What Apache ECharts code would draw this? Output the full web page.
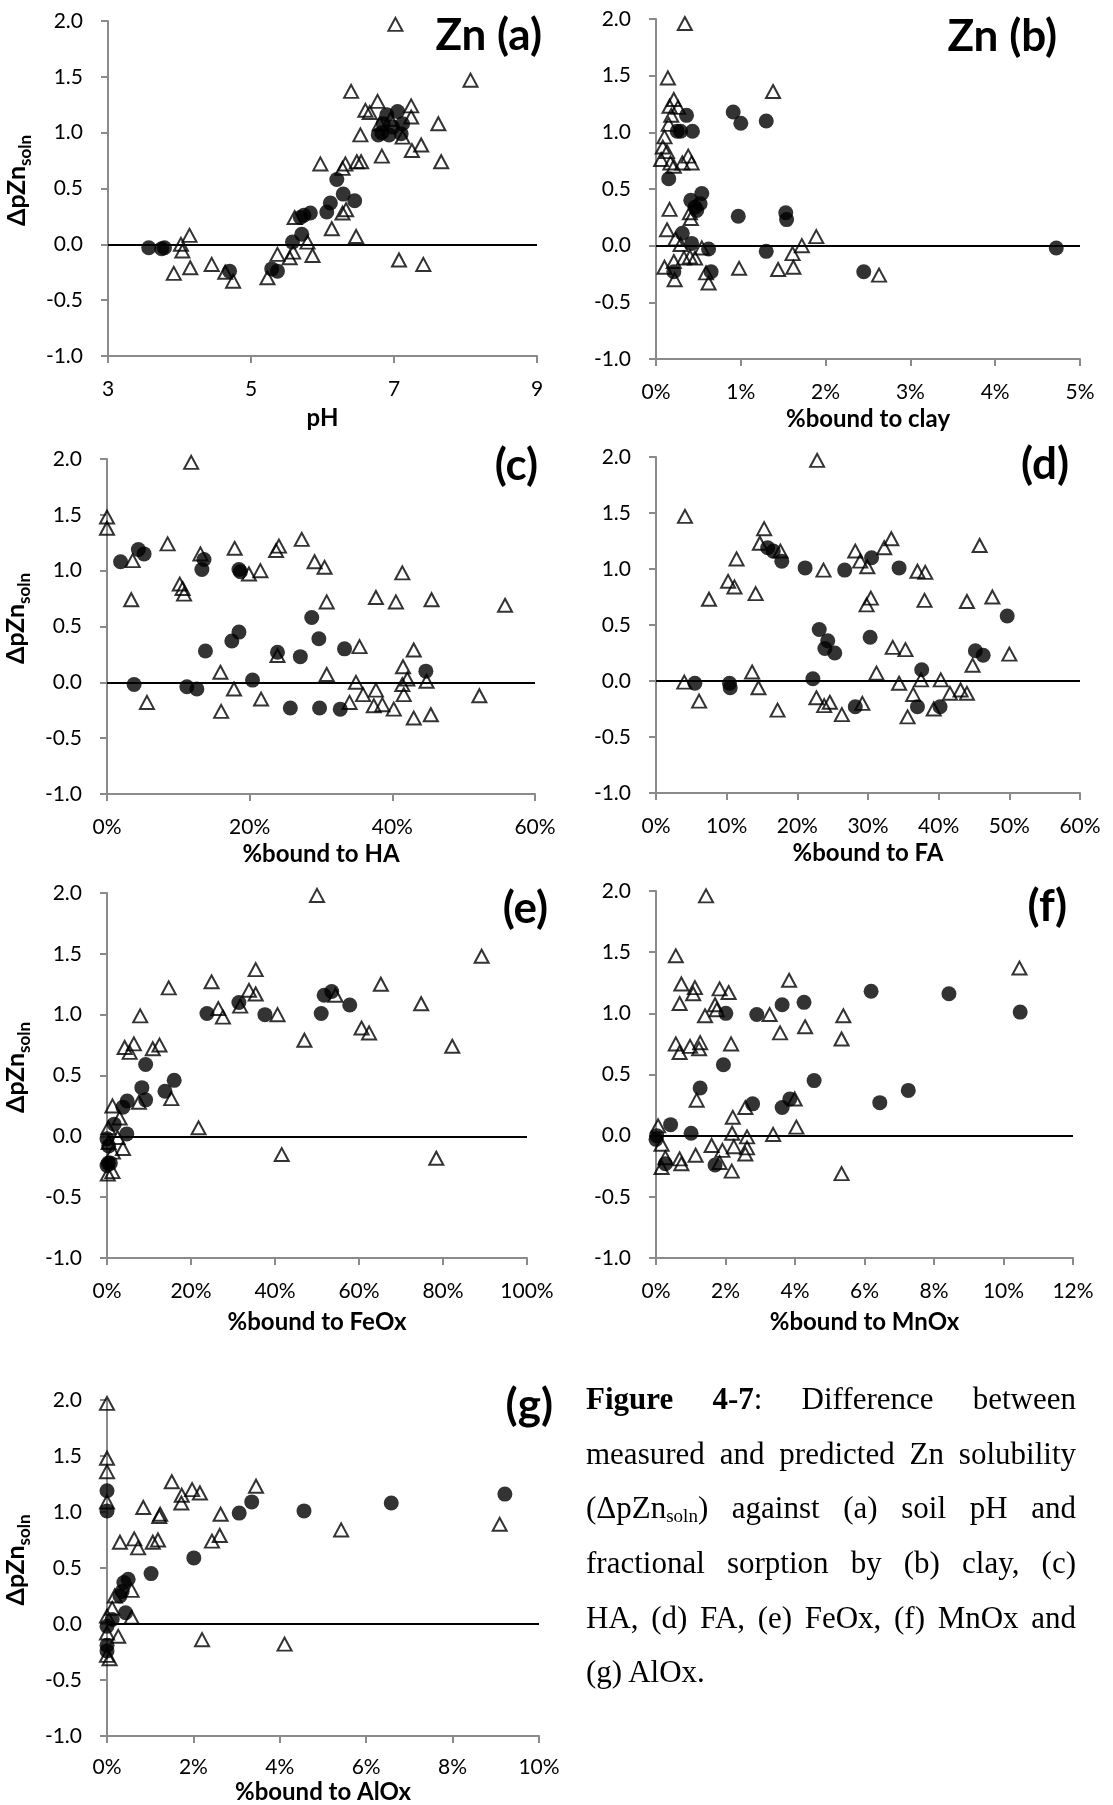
<!DOCTYPE html>
<html>
<head>
<meta charset="utf-8">
<script src="https://cdn.jsdelivr.net/npm/echarts@6/dist/echarts.min.js"></script>
<style>
html,body{margin:0;padding:0;background:#fff;}
#chart{position:absolute;left:0;top:0;width:1113px;height:1805px;}
#caption{position:absolute;left:586px;top:1372px;width:490px;font-family:"Liberation Serif","Times New Roman",serif;font-size:31px;color:#000;}
#caption div{height:54.7px;line-height:54.7px;text-align:justify;text-align-last:justify;white-space:nowrap;}
#caption div.last{text-align:left;text-align-last:left;}
#caption sub{font-size:19px;vertical-align:-4px;line-height:0;}
</style>
</head>
<body>
<div id="chart"></div>
<div id="caption">
<div><b>Figure 4-7</b>: Difference between</div>
<div>measured and predicted Zn solubility</div>
<div>(ΔpZn<sub>soln</sub>) against (a) soil pH and</div>
<div>fractional sorption by (b) clay, (c)</div>
<div>HA, (d) FA, (e) FeOx, (f) MnOx and</div>
<div class="last">(g) AlOx.</div>
</div>
<script>
// ---- data: [x, ΔpZn_soln] ; Tri = open triangles, Dot = filled circles ----
const aTri = [[7.02,1.97],[8.07,1.47],[6.40,1.37],[6.77,1.28],[6.60,1.20],[6.66,1.18],[7.24,1.24],[7.24,1.14],[7.62,1.08],[6.53,0.98],[7.12,0.96],[7.25,0.84],[7.38,0.89],[6.83,0.79],[7.66,0.74],[5.97,0.72],[6.28,0.68],[6.32,0.72],[6.48,0.74],[6.54,0.74],[6.13,0.14],[6.28,0.28],[6.33,0.31],[6.47,0.07],[7.07,-0.14],[7.41,-0.18],[5.61,0.24],[5.79,0.02],[5.86,-0.10],[5.37,-0.09],[5.54,-0.12],[5.59,-0.07],[5.23,-0.30],[4.75,-0.33],[4.64,-0.25],[4.45,-0.18],[4.15,-0.21],[4.14,0.08],[4.02,0.00],[4.04,-0.06],[3.92,-0.26],[6.80,1.08],[6.95,1.12]];
const aDot = [[3.57,-0.03],[3.75,-0.04],[3.79,-0.03],[4.70,-0.24],[5.29,-0.22],[5.37,-0.24],[5.58,0.02],[5.71,0.09],[5.69,0.24],[5.74,0.26],[5.83,0.28],[6.06,0.29],[6.11,0.37],[6.20,0.58],[6.29,0.45],[6.45,0.39],[6.78,0.98],[6.85,1.08],[6.90,1.16],[6.98,1.05],[7.05,1.19],[7.10,0.99],[7.12,1.08],[6.93,0.98],[6.83,1.00]];

const bTri = [[0.34,1.96],[0.14,1.48],[1.38,1.36],[0.21,1.29],[0.16,1.23],[0.26,1.22],[0.18,1.15],[0.15,1.07],[0.10,0.96],[0.08,0.87],[0.13,0.83],[0.06,0.76],[0.17,0.73],[0.21,0.70],[0.31,0.73],[0.38,0.79],[0.42,0.73],[0.16,0.32],[0.40,0.29],[0.41,0.24],[0.13,0.14],[0.23,0.06],[0.29,0.01],[0.10,-0.19],[0.21,-0.14],[0.22,-0.30],[0.33,-0.11],[0.40,-0.10],[0.46,-0.11],[0.54,-0.02],[0.59,-0.24],[0.62,-0.33],[0.98,-0.20],[1.44,-0.21],[1.61,-0.07],[1.62,-0.19],[1.72,0.00],[1.89,0.08],[2.63,-0.26]];
const bDot = [[0.36,1.15],[0.25,1.01],[0.29,1.01],[0.43,1.01],[0.15,0.59],[0.41,0.40],[0.54,0.46],[0.46,0.34],[0.52,0.37],[0.48,0.31],[0.31,0.11],[0.42,0.02],[0.62,-0.03],[0.21,-0.23],[0.65,-0.23],[0.91,1.18],[1.00,1.08],[1.30,1.10],[0.97,0.26],[1.53,0.29],[1.54,0.23],[1.30,-0.05],[2.45,-0.23],[4.72,-0.02]];

const cTri = [[11.8,1.97],[0.0,1.48],[0.0,1.38],[8.5,1.24],[3.6,1.09],[3.4,0.74],[13.1,1.15],[17.9,1.20],[10.2,0.88],[10.6,0.84],[10.8,0.79],[19.9,0.97],[21.5,1.00],[23.7,1.18],[24.1,1.22],[27.3,1.28],[29.1,1.08],[30.5,1.03],[30.8,0.72],[41.4,0.98],[37.7,0.76],[40.5,0.72],[45.5,0.74],[55.8,0.69],[35.4,0.32],[43.0,0.29],[41.5,0.14],[15.9,0.09],[30.8,0.07],[34.9,0.00],[42.1,0.03],[41.4,-0.02],[44.8,0.01],[35.9,-0.11],[37.7,-0.07],[41.6,-0.11],[5.6,-0.18],[17.8,-0.06],[21.6,-0.15],[16.0,-0.26],[34.0,-0.18],[37.4,-0.21],[38.6,-0.20],[40.2,-0.24],[43.0,-0.32],[45.4,-0.29],[52.2,-0.12],[23.9,0.24]];
const cDot = [[1.9,1.08],[4.4,1.19],[5.2,1.15],[13.6,1.10],[13.3,1.01],[18.5,1.01],[18.7,0.99],[3.8,-0.02],[11.2,-0.04],[12.6,-0.06],[13.8,0.28],[17.5,0.37],[18.5,0.45],[20.4,0.02],[23.9,0.27],[25.7,-0.23],[27.1,0.23],[28.7,0.58],[29.7,0.39],[29.8,-0.23],[32.7,-0.24],[33.3,0.30],[44.7,0.10]];

const dTri = [[22.8,1.97],[4.1,1.47],[15.3,1.36],[14.7,1.23],[17.6,1.16],[11.4,1.09],[10.2,0.89],[11.1,0.84],[7.5,0.73],[14.1,0.78],[23.7,0.99],[28.2,1.16],[28.9,1.07],[29.9,1.02],[32.3,1.19],[33.3,1.27],[29.8,0.68],[30.4,0.74],[37.0,0.98],[38.1,0.97],[38.0,0.72],[44.0,0.71],[45.8,1.21],[47.6,0.75],[50.0,0.24],[44.8,0.14],[33.5,0.30],[35.3,0.28],[31.2,0.07],[4.0,-0.01],[6.1,-0.18],[13.6,0.08],[14.5,-0.06],[17.2,-0.26],[22.7,-0.15],[23.8,-0.22],[24.6,-0.19],[26.3,-0.30],[29.2,-0.20],[34.4,-0.02],[35.6,-0.32],[36.4,-0.12],[37.5,0.01],[39.3,-0.25],[40.3,0.01],[41.6,-0.11],[43.1,-0.08],[44.0,-0.11]];
const dDot = [[15.8,1.19],[16.6,1.16],[17.8,1.07],[21.1,1.01],[26.7,0.99],[30.5,1.10],[34.4,1.01],[49.7,0.58],[23.1,0.46],[24.3,0.36],[23.9,0.29],[25.3,0.25],[30.3,0.39],[45.2,0.27],[46.3,0.23],[37.6,0.10],[22.2,0.02],[5.5,-0.02],[10.4,-0.02],[10.5,-0.06],[28.2,-0.23],[37.0,-0.23],[40.2,-0.23]];

const eTri = [[50.0,1.98],[89.2,1.48],[24.9,1.27],[14.7,1.22],[35.4,1.37],[33.8,1.20],[35.4,1.17],[65.2,1.25],[74.8,1.09],[54.4,1.16],[26.5,1.05],[27.6,0.98],[31.7,1.07],[40.6,1.00],[7.9,0.99],[47.0,0.79],[60.6,0.89],[62.4,0.85],[82.2,0.74],[4.2,0.73],[5.4,0.69],[6.4,0.76],[10.9,0.72],[12.5,0.75],[15.3,0.31],[21.8,0.07],[41.6,-0.15],[78.4,-0.18],[1.3,0.25],[7.6,0.28],[3.0,0.15],[0.3,0.07],[3.8,-0.10],[0.4,-0.05],[1.4,-0.13],[0.2,-0.31],[1.3,-0.29],[2.5,-0.01]];
const eDot = [[31.4,1.10],[23.8,1.01],[37.6,1.00],[51.0,1.01],[51.7,1.16],[53.5,1.19],[57.8,1.08],[9.2,0.59],[8.3,0.40],[9.2,0.30],[13.8,0.37],[16.0,0.46],[4.8,0.29],[3.8,0.24],[1.7,0.10],[4.7,0.02],[0.0,-0.02],[0.4,-0.08],[0.3,-0.22],[0.0,-0.24],[0.8,-0.22]];

const fTri = [[1.44,1.96],[0.57,1.47],[10.46,1.37],[0.73,1.24],[1.12,1.21],[1.07,1.16],[0.68,1.08],[1.83,1.20],[2.09,1.17],[1.70,1.07],[1.75,1.03],[1.41,0.98],[3.83,1.27],[3.27,0.99],[3.57,0.84],[4.29,0.89],[5.39,0.98],[5.34,0.79],[0.57,0.75],[0.68,0.68],[0.98,0.73],[1.27,0.76],[1.24,0.71],[2.16,0.75],[1.17,0.29],[2.21,0.15],[2.19,0.02],[2.57,0.23],[3.99,0.30],[4.04,0.07],[3.37,0.01],[0.06,0.08],[0.16,-0.07],[0.27,-0.18],[0.16,-0.26],[0.68,-0.19],[0.73,-0.23],[1.14,-0.16],[1.60,-0.08],[1.91,-0.12],[1.83,-0.22],[2.24,-0.09],[2.18,-0.29],[2.62,-0.01],[2.62,-0.10],[2.57,-0.15],[5.34,-0.31]];
const fDot = [[0.0,-0.03],[0.02,0.0],[0.42,0.09],[1.01,0.02],[0.27,-0.23],[1.70,-0.24],[1.27,0.39],[1.94,0.58],[2.01,1.00],[2.90,0.99],[3.63,1.07],[4.26,1.09],[2.78,0.26],[3.63,0.23],[3.85,0.30],[4.55,0.45],[6.19,1.18],[6.44,0.27],[7.26,0.37],[8.43,1.16],[10.48,1.01]];

const gTri = [[0.0,1.97],[0.0,1.48],[0.0,1.36],[0.0,1.09],[1.50,1.27],[1.73,1.15],[1.72,1.08],[1.97,1.20],[2.15,1.17],[0.84,1.04],[1.23,0.98],[1.21,0.96],[2.63,0.98],[3.45,1.23],[0.30,0.73],[0.63,0.76],[0.72,0.68],[1.06,0.73],[1.18,0.75],[2.43,0.74],[2.61,0.79],[5.42,0.84],[9.09,0.89],[2.20,-0.14],[4.11,-0.18],[0.12,0.14],[0.18,0.25],[0.57,0.06],[0.57,0.30],[0.0,0.07],[0.26,-0.11],[0.0,-0.08],[0.06,-0.31],[0.0,-0.28]];
const gDot = [[0.0,1.19],[0.0,1.01],[1.02,0.45],[2.01,0.59],[3.06,0.99],[3.35,1.09],[4.56,1.01],[6.58,1.08],[9.21,1.16],[0.49,0.40],[0.39,0.37],[0.35,0.29],[0.30,0.25],[0.43,0.10],[0.12,0.04],[0.0,-0.02],[0.0,-0.19],[0.0,-0.24]];

// axis ranges / labels
const xRanges = {a:[3,9,2], b:[0,5,1], c:[0,60,20], d:[0,60,10], e:[0,100,20], f:[0,12,2], g:[0,10,2]};
const xNames = {a:'pH', b:'%bound to clay', c:'%bound to HA', d:'%bound to FA', e:'%bound to FeOx', f:'%bound to MnOx', g:'%bound to AlOx'};
const panelTitles = {a:'Zn (a)', b:'Zn (b)', c:'(c)', d:'(d)', e:'(e)', f:'(f)', g:'(g)'};
const yRange = [-1, 2, 0.5];

// ---- layout ----
const FONT = 'Lato, "Open Sans", "DejaVu Sans", sans-serif';
const layout = {
  a:{grid:{left:108,top:21,width:429,height:335}, tx:542, ty:36, yName:true, nameGap:50, lm:23},
  b:{grid:{left:656,top:19,width:424,height:340}, tx:1057, ty:37, yName:false, nameGap:48, lm:23},
  c:{grid:{left:107,top:459,width:428,height:335}, tx:538, ty:466, yName:true, nameGap:48, lm:23},
  d:{grid:{left:656,top:457,width:424,height:336}, tx:1069, ty:465, yName:false, nameGap:48, lm:23},
  e:{grid:{left:107,top:893,width:420,height:365}, tx:548, ty:909, yName:true, nameGap:52, lm:23},
  f:{grid:{left:656,top:891,width:417,height:367}, tx:1067, ty:907, yName:false, nameGap:52, lm:23},
  g:{grid:{left:107,top:1400,width:432,height:338}, tx:553, ty:1406, yName:true, nameGap:44, lm:21}
};
const dataSets = {a:[aTri,aDot], b:[bTri,bDot], c:[cTri,cDot], d:[dTri,dDot], e:[eTri,eDot], f:[fTri,fDot], g:[gTri,gDot]};
const keys = ['a','b','c','d','e','f','g'];

const AX = '#8a8a8a';
const grids = [], xAxes = [], yAxes = [], series = [], graphics = [];
keys.forEach((k, i) => {
  const L = layout[k];
  grids.push(Object.assign({containLabel:false}, L.grid));
  const r = xRanges[k];
  const pct = k !== 'a';
  xAxes.push({
    type:'value', gridIndex:i, min:r[0], max:r[1], interval:r[2],
    name:xNames[k], nameLocation:'middle', nameGap:L.nameGap,
    nameTextStyle:{fontFamily:FONT, fontWeight:'bold', fontSize:24, color:'#000'},
    axisLine:{show:true, onZero:false, lineStyle:{color:AX, width:2}},
    axisTick:{show:true, inside:false, length:7, lineStyle:{color:AX, width:2}},
    axisLabel:{fontFamily:FONT, fontSize:21, color:'#000', margin:L.lm,
      formatter: v => pct ? (v + '%') : String(v)},
    splitLine:{show:false}
  });
  yAxes.push({
    type:'value', gridIndex:i, min:yRange[0], max:yRange[1], interval:yRange[2],
    name: L.yName ? '{a|ΔpZn}{b|soln}' : '',
    nameLocation:'middle', nameGap:74, nameRotate:90,
    nameTextStyle:{fontFamily:FONT, color:'#000', padding:[0,0,0,16],
      rich:{
        a:{fontFamily:FONT, fontWeight:'bold', fontSize:25, color:'#000', lineHeight:30, verticalAlign:'top'},
        b:{fontFamily:FONT, fontWeight:'bold', fontSize:17, color:'#000', lineHeight:30, verticalAlign:'bottom'}
      }},
    axisLine:{show:true, onZero:false, lineStyle:{color:AX, width:2}},
    axisTick:{show:true, inside:false, length:7, lineStyle:{color:AX, width:2}},
    axisLabel:{fontFamily:FONT, fontSize:21, color:'#000', margin:25,
      formatter: v => v.toFixed(1)},
    splitLine:{show:false}
  });
  const [tri, dot] = dataSets[k];
  series.push({
    type:'scatter', xAxisIndex:i, yAxisIndex:i, data:tri, symbol:'triangle', symbolSize:[14,13],
    itemStyle:{color:'rgba(255,255,255,0)', borderColor:'#000', borderWidth:2},
    z:2,
    markLine:{silent:true, symbol:'none', label:{show:false}, animation:false,
      lineStyle:{color:'#000', width:2, type:'solid'}, data:[{yAxis:0}]}
  });
  series.push({
    type:'scatter', xAxisIndex:i, yAxisIndex:i, data:dot, symbol:'circle', symbolSize:15,
    itemStyle:{color:'#000', borderWidth:0}, z:3
  });
  graphics.push({
    type:'text', x:L.tx, y:L.ty, z:10,
    style:{text:panelTitles[k], fill:'#000', font:'bold 44px ' + FONT,
      align:'right', verticalAlign:'middle', textAlign:'right', textVerticalAlign:'middle'}
  });
});

const chart = echarts.init(document.getElementById('chart'), null, {renderer:'canvas', width:1113, height:1805});
chart.setOption({
  animation:false,
  backgroundColor:'#fff',
  grid:grids, xAxis:xAxes, yAxis:yAxes, series:series, graphic:graphics
});
</script>
</body>
</html>
